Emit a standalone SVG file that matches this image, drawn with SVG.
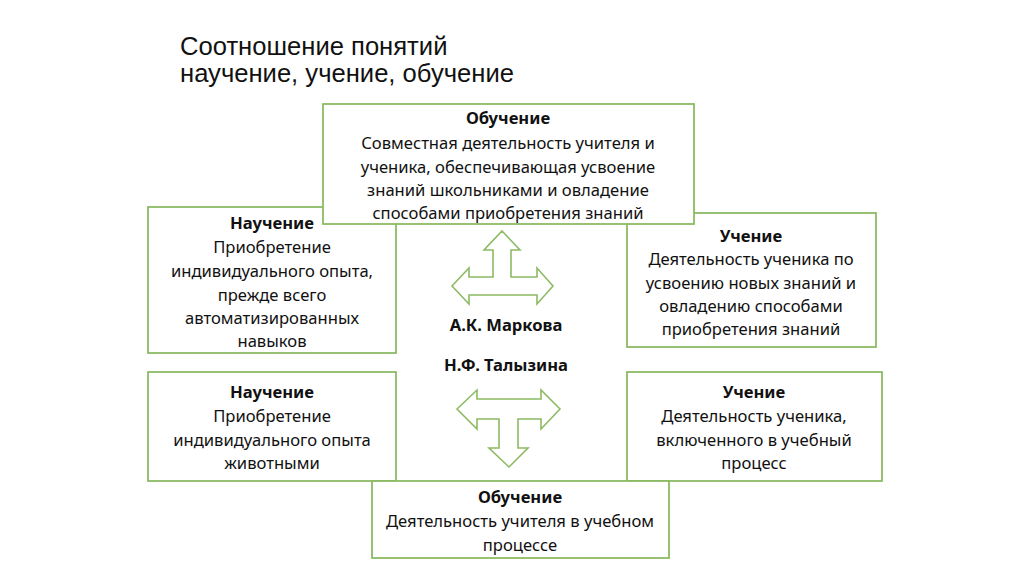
<svg xmlns="http://www.w3.org/2000/svg" width="1024" height="574" viewBox="0 0 1024 574">
<style>
.box{fill:#fff;stroke:#8dbb64;stroke-width:1.8}
.arr{fill:#fff;stroke:#8dbb64;stroke-width:1.6;stroke-linejoin:miter}
text{font-family:"Noto Sans","Open Sans","DejaVu Sans",sans-serif;font-size:16.6px;fill:#111;text-anchor:middle}
.b{font-weight:bold}
.title{font-family:"Liberation Sans",Arial,sans-serif;font-size:25.6px;text-anchor:start;fill:#111}
</style>
<rect width="1024" height="574" fill="#fff"/>
<g id="title">
<text class="title" x="180" y="55">Соотношение понятий</text>
<text class="title" x="180" y="82">научение, учение, обучение</text>
</g>
<g id="connectors">
<polygon class="arr" points="502,231 520,250 511,250 511,277 537,277 537,268 553,286 537,304 537,295 469,295 469,304 452,286 469,268 469,277 493,277 493,250 484,250"/>
<polygon class="arr" points="457,409 477,390 477,399 541,399 541,390 560,409 541,429 541,419 518,419 518,448 528,448 509,467 489,448 499,448 499,419 477,419 477,429"/>
</g>
<g id="nauchenie1">
<rect class="box" x="148" y="207" width="248" height="146"/>
<text class="b" x="272" y="229">Научение</text>
<text x="272" y="253">Приобретение</text>
<text x="272" y="277">индивидуального опыта,</text>
<text x="272" y="301">прежде всего</text>
<text x="272" y="324">автоматизированных</text>
<text x="272" y="347">навыков</text>
</g>
<g id="uchenie1">
<rect class="box" x="627" y="213" width="249" height="134"/>
<text class="b" x="751" y="242">Учение</text>
<text x="751" y="265">Деятельность ученика по</text>
<text x="751" y="289">усвоению новых знаний и</text>
<text x="751" y="312">овладению способами</text>
<text x="751" y="335">приобретения знаний</text>
</g>
<g id="obuchenie1">
<rect class="box" x="323" y="104" width="371" height="120"/>
<text class="b" x="508" y="124">Обучение</text>
<text x="508" y="149">Совместная деятельность учителя и</text>
<text x="508" y="173">ученика, обеспечивающая усвоение</text>
<text x="508" y="196">знаний школьниками и овладение</text>
<text x="508" y="219">способами приобретения знаний</text>
</g>
<g id="authors">
<text class="b" x="506" y="331">А.К. Маркова</text>
<text class="b" x="506" y="371">Н.Ф. Талызина</text>
</g>
<g id="nauchenie2">
<rect class="box" x="148" y="372" width="248" height="109"/>
<text class="b" x="272" y="398">Научение</text>
<text x="272" y="422">Приобретение</text>
<text x="272" y="446">индивидуального опыта</text>
<text x="272" y="469">животными</text>
</g>
<g id="uchenie2">
<rect class="box" x="627" y="372" width="255" height="109"/>
<text class="b" x="754" y="398">Учение</text>
<text x="754" y="422">Деятельность ученика,</text>
<text x="754" y="446">включенного в учебный</text>
<text x="754" y="469">процесс</text>
</g>
<g id="obuchenie2">
<rect class="box" x="372" y="481" width="297" height="77"/>
<text class="b" x="520" y="503">Обучение</text>
<text x="520" y="527">Деятельность учителя в учебном</text>
<text x="520" y="551">процессе</text>
</g>
</svg>
